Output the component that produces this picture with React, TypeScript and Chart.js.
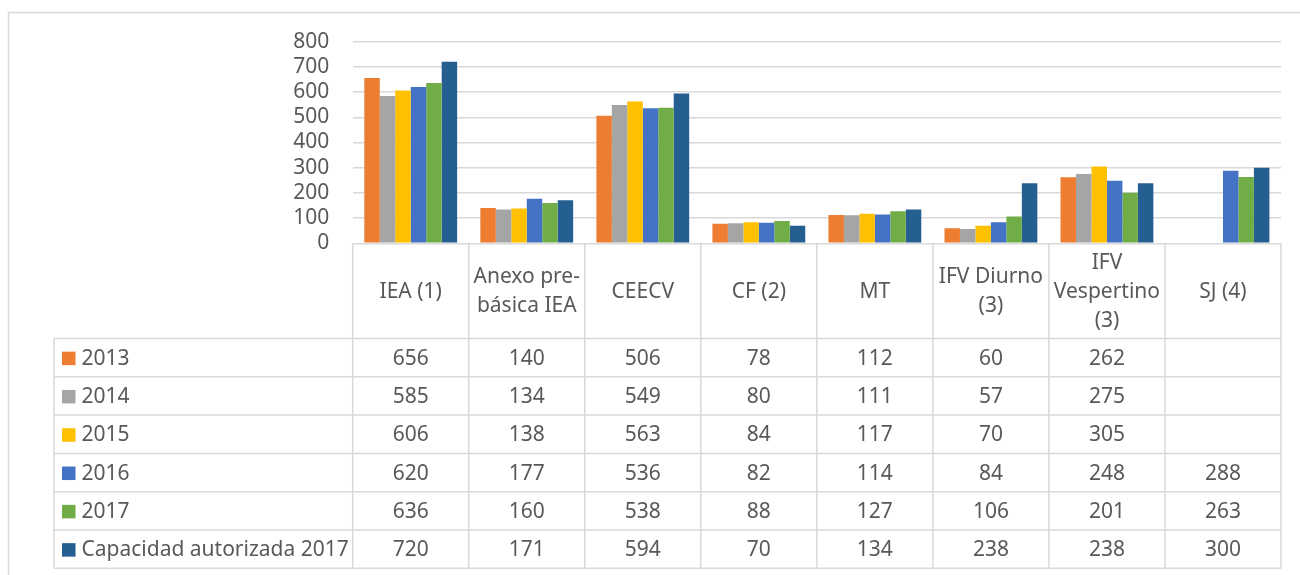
import React, { useEffect, useRef } from "react";
import { Chart, registerables } from "chart.js";

Chart.register(...registerables);

// ---- Data ----
const categories: string[][] = [
  ["IEA (1)"],
  ["Anexo pre-", "básica IEA"],
  ["CEECV"],
  ["CF (2)"],
  ["MT"],
  ["IFV Diurno", "(3)"],
  ["IFV", "Vespertino", "(3)"],
  ["SJ (4)"],
];
const seriesNames = ["2013", "2014", "2015", "2016", "2017", "Capacidad autorizada 2017"];
const values2013 = [656, 140, 506, 78, 112, 60, 262, null];
const values2014 = [585, 134, 549, 80, 111, 57, 275, null];
const values2015 = [606, 138, 563, 84, 117, 70, 305, null];
const values2016 = [620, 177, 536, 82, 114, 84, 248, 288];
const values2017 = [636, 160, 538, 88, 127, 106, 201, 263];
const valuesCapacidad = [720, 171, 594, 70, 134, 238, 238, 300];
const seriesColors = ["#ED7D31", "#A5A5A5", "#FFC000", "#4472C4", "#70AD47", "#255E91"];
const yMax = 800;
const yStep = 100;

const allSeries = [values2013, values2014, values2015, values2016, values2017, valuesCapacidad];

const FONT = "Noto Sans";
const FONT_SIZE = 21;
const TEXT = "#595959";
const LINE = "#D9D9D9";

const borderPlugin = {
  id: "outerBorder",
  beforeDraw(chart: any) {
    const ctx = chart.ctx;
    ctx.save();
    ctx.strokeStyle = LINE;
    ctx.lineWidth = 1.5;
    ctx.beginPath();
    ctx.moveTo(8.5, 1000);
    ctx.lineTo(8.5, 12.5);
    ctx.lineTo(1400, 12.5);
    ctx.stroke();
    ctx.restore();
  },
};

const tablePlugin = {
  id: "dataTable",
  afterDraw(chart: any) {
    const ctx = chart.ctx;
    const { left, right, bottom } = chart.chartArea;
    const n = categories.length;
    const w = (right - left) / n;
    const headerBottom = 338.5;
    const rowH = 38.3;
    const legendLeft = 54;
    const tableBottom = headerBottom + rowH * seriesNames.length;

    ctx.save();
    ctx.strokeStyle = LINE;
    ctx.lineWidth = 1.5;
    ctx.beginPath();
    for (let i = 0; i <= n; i++) {
      const x = left + i * w;
      ctx.moveTo(x, bottom);
      ctx.lineTo(x, tableBottom);
    }
    ctx.moveTo(legendLeft, headerBottom);
    ctx.lineTo(legendLeft, tableBottom);
    for (let r = 0; r <= seriesNames.length; r++) {
      const y = headerBottom + r * rowH;
      ctx.moveTo(legendLeft, y);
      ctx.lineTo(right, y);
    }
    ctx.stroke();

    ctx.fillStyle = TEXT;
    ctx.font = `${FONT_SIZE}px "${FONT}"`;
    ctx.textBaseline = "middle";
    ctx.textAlign = "center";

    // header
    const headerMid = (bottom + headerBottom) / 2 + 1;
    const lh = 29;
    categories.forEach((lines, i) => {
      const cx = left + (i + 0.5) * w;
      const y0 = headerMid - ((lines.length - 1) * lh) / 2;
      lines.forEach((t, k) => ctx.fillText(t, cx, y0 + k * lh));
    });

    // rows
    allSeries.forEach((vals, r) => {
      const cy = headerBottom + (r + 0.5) * rowH + 1;
      vals.forEach((v, i) => {
        if (v === null || v === undefined) return;
        ctx.fillText(String(v), left + (i + 0.5) * w, cy);
      });
      // legend
      ctx.fillStyle = seriesColors[r];
      ctx.fillRect(62, cy - 7, 13.5, 13.5);
      ctx.fillStyle = TEXT;
      ctx.textAlign = "left";
      ctx.fillText(seriesNames[r], 81.5, cy);
      ctx.textAlign = "center";
    });
    ctx.restore();
  },
};

export default function App() {
  const ref = useRef<HTMLCanvasElement | null>(null);

  useEffect(() => {
    if (!ref.current) return;
    const chart = new Chart(ref.current, {
      type: "bar",
      data: {
        labels: categories,
        datasets: allSeries.map((vals, i) => ({
          label: seriesNames[i],
          data: vals,
          backgroundColor: seriesColors[i],
          borderWidth: 0,
          categoryPercentage: 0.8,
          barPercentage: 1.0,
        })),
      },
      options: {
        animation: false,
        responsive: false,
        layout: { padding: { top: 41.7, right: 19, bottom: 331.7, left: 0 } },
        plugins: {
          legend: { display: false },
          tooltip: { enabled: false },
          title: { display: false },
        },
        scales: {
          x: { display: false },
          y: {
            min: 0,
            max: yMax,
            ticks: {
              stepSize: yStep,
              autoSkip: false,
              color: TEXT,
              padding: 23.5,
              font: { family: FONT, size: FONT_SIZE },
            },
            grid: { color: LINE, lineWidth: 1.5, drawTicks: false },
            border: { display: false },
            afterFit: (scale: any) => {
              scale.width = 352.7;
            },
          },
        },
      },
      plugins: [borderPlugin, tablePlugin],
    });
    return () => chart.destroy();
  }, []);

  return (
    <div style={{ position: "absolute", left: 0, top: 0, width: 1300, height: 575, background: "#fff" }}>
      <canvas ref={ref} width={1300} height={575} style={{ display: "block" }} />
    </div>
  );
}
